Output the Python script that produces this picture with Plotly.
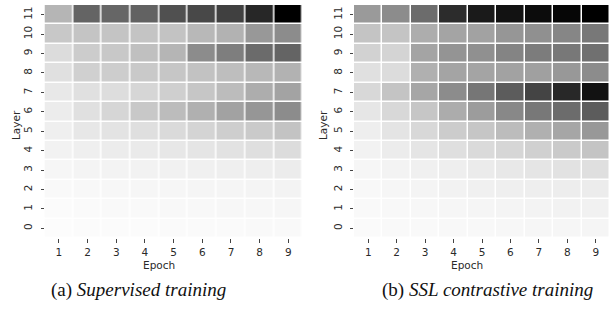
import plotly.graph_objects as go

epochs = [1, 2, 3, 4, 5, 6, 7, 8, 9]
layers = [0, 1, 2, 3, 4, 5, 6, 7, 8, 9, 10, 11]

# gray level (0 = black, 255 = white) per cell, rows = layers 0..11, cols = epochs 1..9
supervised = [
    [252, 251, 251, 251, 250, 250, 250, 249, 249],
    [251, 250, 249, 249, 248, 248, 247, 247, 246],
    [249, 248, 247, 246, 246, 245, 245, 244, 243],
    [246, 244, 243, 242, 241, 240, 239, 238, 236],
    [242, 239, 236, 234, 231, 229, 226, 223, 220],
    [239, 231, 227, 223, 218, 212, 206, 202, 195],
    [236, 224, 214, 200, 188, 176, 162, 150, 140],
    [232, 224, 221, 214, 207, 198, 188, 173, 163],
    [224, 208, 205, 201, 198, 194, 190, 184, 178],
    [220, 204, 200, 192, 181, 140, 126, 107, 100],
    [200, 196, 196, 196, 195, 184, 178, 152, 140],
    [181, 100, 102, 98, 80, 72, 64, 39, 0],
]

ssl_contrastive = [
    [250, 249, 249, 248, 248, 247, 246, 246, 245],
    [249, 248, 247, 246, 245, 244, 243, 242, 241],
    [248, 246, 244, 242, 240, 239, 238, 237, 236],
    [246, 243, 240, 238, 235, 232, 229, 226, 223],
    [242, 236, 229, 223, 218, 214, 208, 202, 196],
    [238, 228, 216, 204, 198, 188, 176, 166, 152],
    [230, 216, 198, 172, 156, 136, 120, 108, 92],
    [216, 196, 166, 140, 118, 92, 68, 40, 18],
    [224, 220, 176, 164, 164, 162, 160, 152, 140],
    [210, 212, 164, 148, 144, 132, 124, 120, 112],
    [196, 196, 173, 164, 162, 150, 144, 134, 120],
    [154, 140, 108, 44, 26, 18, 12, 6, 0],
]

x_title = "Epoch"
y_title = "Layer"
captions = ["(a) <i>Supervised training</i>", "(b) <i>SSL contrastive training</i>"]

W, H = 610, 312
scale = [[0, "rgb(0,0,0)"], [1, "rgb(255,255,255)"]]

fig = go.Figure()
fig.add_trace(go.Heatmap(z=supervised, x=epochs, y=layers, colorscale=scale,
                         zmin=0, zmax=255, showscale=False, xgap=1.5, ygap=1.5,
                         xaxis="x", yaxis="y", hoverinfo="skip"))
fig.add_trace(go.Heatmap(z=ssl_contrastive, x=epochs, y=layers, colorscale=scale,
                         zmin=0, zmax=255, showscale=False, xgap=1.5, ygap=1.5,
                         xaxis="x2", yaxis="y2", hoverinfo="skip"))

tickfont = dict(family="DejaVu Sans", size=10.5, color="#2a2a2a")
ydom = [1 - 238 / H, 1 - 5 / H]
common_x = dict(tickmode="array", tickvals=epochs, ticktext=[str(e) for e in epochs],
                ticks="outside", ticklen=4, tickwidth=1, tickcolor="#444",
                showgrid=False, zeroline=False, showline=False, tickfont=tickfont,
                ticklabelstandoff=0)
common_y = dict(tickmode="array", tickvals=layers, ticktext=[str(l) for l in layers],
                ticks="outside", ticklen=3, tickwidth=1, tickcolor="#444",
                showgrid=False, zeroline=False, showline=False, tickfont=tickfont,
                tickangle=-90, ticklabelstandoff=4)

fig.update_layout(
    width=W, height=H, margin=dict(l=0, r=0, t=0, b=0),
    paper_bgcolor="white", plot_bgcolor="white", showlegend=False,
    xaxis=dict(domain=[44.5 / W, 302.7 / W], anchor="y", **common_x),
    yaxis=dict(domain=ydom, anchor="x", **common_y),
    xaxis2=dict(domain=[354 / W, 1.0], anchor="y2", **common_x),
    yaxis2=dict(domain=ydom, anchor="x2", **common_y),
)

annos = []
for cx in (159, 467):
    annos.append(dict(text=x_title, x=cx / W, y=1 - 265 / H, xref="paper", yref="paper",
                      xanchor="center", yanchor="middle", showarrow=False,
                      font=dict(family="DejaVu Sans", size=10.5, color="#2a2a2a")))
for cx in (16, 323):
    annos.append(dict(text=y_title, x=cx / W, y=1 - 125 / H, xref="paper", yref="paper",
                      xanchor="center", yanchor="middle", showarrow=False, textangle=-90,
                      font=dict(family="DejaVu Sans", size=10.5, color="#2a2a2a")))
for cx, cap in zip((138, 487), captions):
    annos.append(dict(text=cap, x=cx / W, y=1 - 290 / H, xref="paper", yref="paper",
                      xanchor="center", yanchor="middle", showarrow=False,
                      font=dict(family="Liberation Serif", size=19, color="#111")))
fig.update_layout(annotations=annos)

fig.write_html("out.html", config={"displayModeBar": False},
               post_script="document.body.style.margin='0';")
